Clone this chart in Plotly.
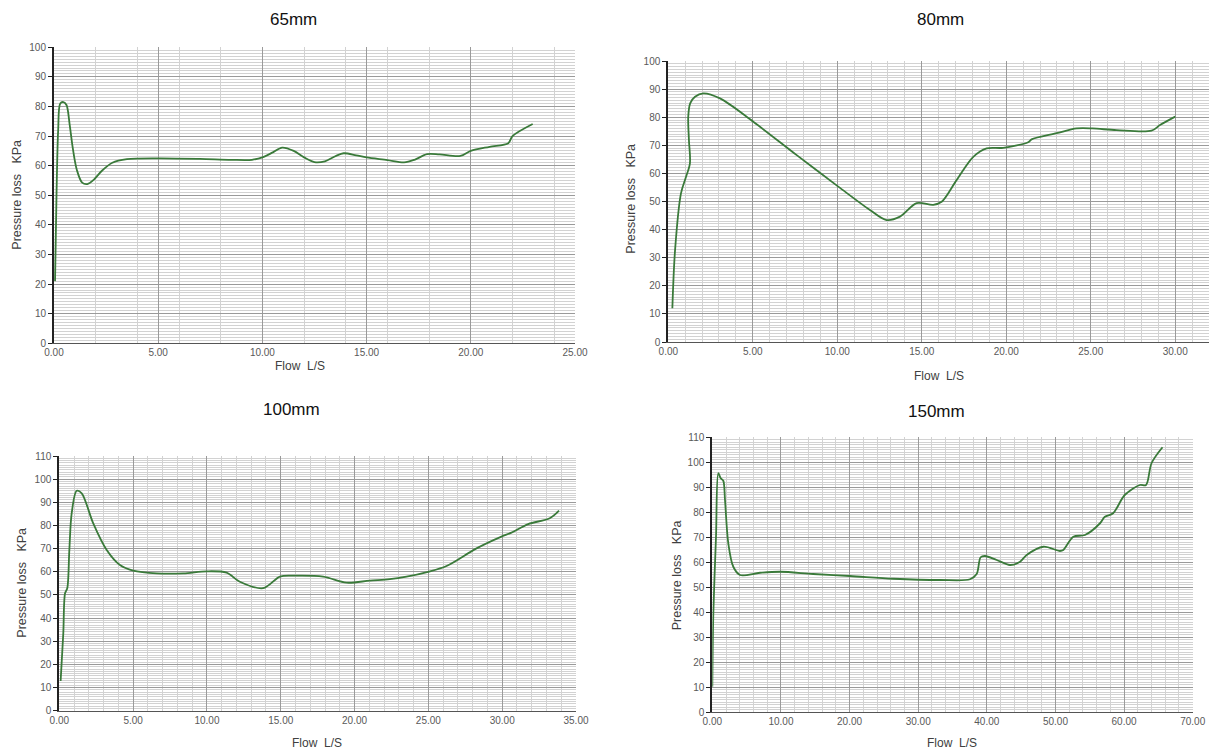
import plotly.graph_objects as go

W, H = 1209, 751

# ---- data ----
titles = ["65mm", "80mm", "100mm", "150mm"]

flow_65 = [0.05, 0.12, 0.2, 0.3, 0.45, 0.6, 0.75, 0.9, 1.1, 1.35, 1.6, 1.9, 2.3, 2.8, 3.5, 5.0, 7.0, 8.5, 9.5, 10.0,
           10.5, 10.95, 11.5, 12.0, 12.5, 13.0, 13.5, 13.9, 14.5, 15.0, 16.0, 16.8, 17.3, 17.9, 18.5, 19.5, 20.0,
           20.9, 21.8, 22.0, 22.97]
loss_65 = [21, 50, 72, 81, 81.5, 80.5, 74, 66, 58.5, 54.3, 53.8, 55.2, 58.3, 61, 62.2, 62.5, 62.3, 62, 62, 62.8,
           64.5, 66.1, 65, 62.8, 61.2, 61.5, 63.2, 64.2, 63.5, 62.8, 61.9, 61.1, 62, 63.9, 63.8, 63.3, 65,
           66.4, 67.6, 70, 74.1]

flow_80 = [0.24, 0.40, 0.75, 1.05, 1.28, 1.22, 1.18, 1.3, 1.58, 2.07, 3.06, 5.03, 7.6, 10.06, 11.93, 12.92, 13.71,
           14.7, 15.68, 16.18, 17.07, 18.05, 18.84, 19.82, 21.3, 21.5, 22.98, 24.17, 25.1, 26.53, 28.6, 29.1, 30.0]
loss_80 = [12, 32.7, 52.9, 58.8, 63.6, 72, 80.2, 85, 87.3, 88.5, 86.7, 78.4, 66.5, 55.3, 47, 43.4, 44.6,
           49.4, 48.8, 49.9, 57.7, 65.9, 68.9, 69.1, 71.1, 72.1, 74.3, 76.0, 76.0, 75.4, 75.2, 77.2, 80.2]

flow_100 = [0.09, 0.27, 0.39, 0.54, 0.68, 0.84, 1.18, 1.52, 2.3, 3.21, 4.11, 5.0, 6.6, 8.4, 9.99, 11.33, 12.23,
            13.81, 14.94, 15.84, 17.87, 19.46, 21.04, 22.39, 23.52, 24.98, 26.23, 28.26, 29.95, 30.63, 31.76,
            33.22, 33.85]
loss_100 = [12.8, 33.4, 50.7, 52.9, 69.4, 85.3, 95.0, 93.9, 80.9, 69.4, 62.9, 60.5, 59.3, 59.3, 60.2, 59.6, 55.7,
            52.9, 57.9, 58.3, 57.9, 55.3, 56.2, 56.8, 57.9, 60.0, 62.5, 70.1, 75.2, 76.9, 80.6, 83.1, 86.4]

flow_150 = [0.0, 0.15, 0.54, 0.88, 1.22, 1.6, 1.85, 2.33, 3.06, 4.04, 6.95, 9.9, 14.7, 20.06, 26.4, 33.2, 37.55,
            38.52, 39.1, 39.74, 41.44, 43.38, 44.84, 45.81, 48.24, 50.66, 51.15, 52.6, 54.3, 56.5, 57.2, 58.4,
            60.1, 62.3, 63.2, 64.0, 65.6]
loss_150 = [10.1, 39.5, 70.1, 95.5, 93.5, 92.5, 84.8, 67.5, 58.1, 54.8, 55.7, 56.1, 55.2, 54.4, 53.3, 52.8, 53.1,
            55.2, 61.9, 62.4, 60.8, 58.8, 60.1, 62.8, 66.1, 64.4, 64.8, 70.1, 70.8, 75.5, 78.1, 79.5,
            86.8, 90.8, 90.8, 99.5, 105.9]

x_max = [25, 32, 35, 70]
y_max = [100, 100, 110, 110]
x_minor = [2, 1, 1, 2]
x_major = [5, 5, 5, 10]

series = [(flow_65, loss_65), (flow_80, loss_80), (flow_100, loss_100), (flow_150, loss_150)]

# ---- layout in pixels ----
plot_px = [  # x0, x1, ytop, ybottom
    (54, 575, 47.3, 343.3),
    (668.3, 1209, 61, 342),
    (59.3, 576, 456, 710.7),
    (712.3, 1192.7, 437, 712),
]
title_px = [(293, 20), (940, 20), (291, 409), (936, 411)]
ytitle_px = [(16.7, 195), (630.7, 199), (21.7, 583), (677.3, 575)]
xtitle_px = [(300, 366), (939, 376), (317, 743), (952, 742.5)]

FONT = "Liberation Sans, Arial, sans-serif"
GREEN = "#3a7a3a"
MAJOR = "#9a9a9a"
MINOR = "#d2d2d2"

fig = go.Figure()
layout = dict(width=W, height=H, margin=dict(l=0, r=0, t=0, b=0), paper_bgcolor="white",
              plot_bgcolor="white", showlegend=False, annotations=[])

for i, (xs, ys) in enumerate(series):
    n = "" if i == 0 else str(i + 1)
    fig.add_trace(go.Scatter(x=xs, y=ys, mode="lines", line=dict(color=GREEN, width=1.8, shape="spline",
                                                                  smoothing=0.9),
                             xaxis="x" + n, yaxis="y" + n, hoverinfo="skip"))
    x0, x1, yt, yb = plot_px[i]
    layout["xaxis" + n] = dict(
        domain=[x0 / W, min(x1 / W, 1.0)], anchor="y" + n, range=[0, x_max[i]], dtick=x_major[i], tick0=0,
        tickformat=".2f", showgrid=True, gridcolor=MAJOR, gridwidth=1, zeroline=False, automargin=False,
        showline=True, linecolor="#555555", linewidth=1, ticks="", fixedrange=True,
        tickfont=dict(family=FONT, size=10, color="#595959"),
        minor=dict(dtick=x_minor[i], tick0=0, showgrid=True, gridcolor=MINOR, gridwidth=1),
    )
    layout["yaxis" + n] = dict(
        domain=[1 - yb / H, 1 - yt / H], anchor="x" + n, range=[0, y_max[i]], dtick=10, tick0=0,
        showgrid=True, gridcolor=MAJOR, gridwidth=1, zeroline=False, automargin=False,
        showline=True, linecolor="#222222", linewidth=2, ticks="outside", ticklen=4, tickcolor="#222222",
        tickfont=dict(family=FONT, size=10, color="#595959"), fixedrange=True,
        minor=dict(dtick=1, tick0=0, showgrid=True, gridcolor=MINOR, gridwidth=1),
    )
    tx, ty = title_px[i]
    layout["annotations"].append(dict(text=titles[i], x=tx / W, y=1 - ty / H, xref="paper", yref="paper",
                                      showarrow=False, xanchor="center", yanchor="middle",
                                      font=dict(family=FONT, size=17, color="#111111")))
    ax, ay = ytitle_px[i]
    layout["annotations"].append(dict(text="Pressure loss\u00a0\u00a0\u00a0KPa", x=ax / W, y=1 - ay / H,
                                      xref="paper", yref="paper", showarrow=False, textangle=-90,
                                      xanchor="center", yanchor="middle",
                                      font=dict(family=FONT, size=12.5, color="#404040")))
    bx, by = xtitle_px[i]
    layout["annotations"].append(dict(text="Flow\u00a0\u00a0L/S", x=bx / W, y=1 - by / H,
                                      xref="paper", yref="paper", showarrow=False,
                                      xanchor="center", yanchor="middle",
                                      font=dict(family=FONT, size=12, color="#404040")))

fig.update_layout(**layout)
fig.write_html("out.html", config={"displayModeBar": False},
               post_script="document.body.style.margin='0';document.body.style.overflow='hidden';")
